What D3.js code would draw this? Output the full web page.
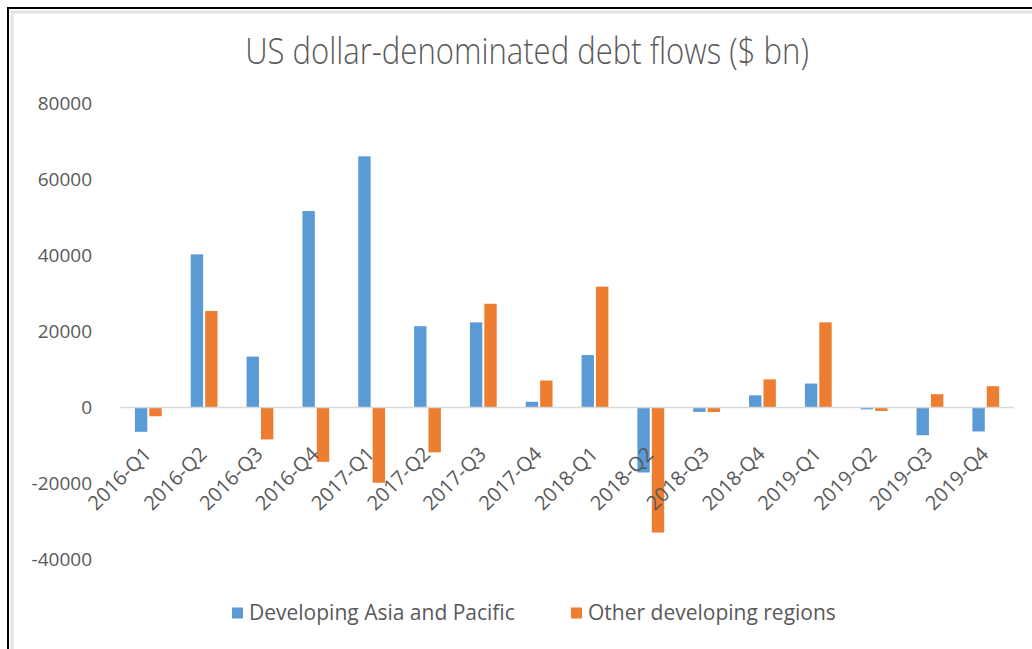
<!DOCTYPE html>
<html>
<head>
<meta charset="utf-8">
<script src="https://cdn.jsdelivr.net/npm/d3@7"></script>
<style>
  body { margin: 0; background: #fff; }
  svg text { font-family: "Open Sans", "Noto Sans", sans-serif; fill: #595959; }
</style>
</head>
<body>
<div id="chart"></div>
<script>
// quarters on the x axis
const quarters = ["2016-Q1", "2016-Q2", "2016-Q3", "2016-Q4",
                  "2017-Q1", "2017-Q2", "2017-Q3", "2017-Q4",
                  "2018-Q1", "2018-Q2", "2018-Q3", "2018-Q4",
                  "2019-Q1", "2019-Q2", "2019-Q3", "2019-Q4"];

// $ bn
const asiaPacific  = [-6400, 40300, 13400, 51700, 66100, 21400, 22400, 1500,
                      13800, -17100, -1150, 3200, 6300, -500, -7300, -6300];
const otherRegions = [-2300, 25400, -8400, -14300, -19800, -11800, 27300, 7100,
                      31800, -32900, -1200, 7400, 22400, -900, 3500, 5600];

const seriesNames = ["Developing Asia and Pacific", "Other developing regions"];
const seriesColors = ["#5B9BD5", "#ED7D31"];
const yTicks = [-40000, -20000, 0, 20000, 40000, 60000, 80000];

const width = 1032, height = 649;

const svg = d3.select("#chart").append("svg")
    .attr("width", width)
    .attr("height", height);

// frame like the screenshot (black top/left edge, grey inner border)
svg.append("path")
    .attr("d", "M12,649 V12 H1032")
    .attr("fill", "none")
    .attr("stroke", "#e3e3e3")
    .attr("stroke-width", 3);
svg.append("path")
    .attr("d", "M8,649 V8 H1032")
    .attr("fill", "none")
    .attr("stroke", "#000")
    .attr("stroke-width", 2);

// title - condensed look by squeezing a larger font horizontally
svg.append("text")
    .attr("transform", "translate(527,64) scale(0.84,1)")
    .attr("text-anchor", "middle")
    .style("font-size", "37px")
    .style("font-weight", 300)
    .text("US dollar-denominated debt flows ($ bn)");

// scales
const x = d3.scaleBand()
    .domain(quarters)
    .range([120.4, 1013.7])
    .paddingInner(0.52)
    .paddingOuter(0.26);

const xInner = d3.scaleBand()
    .domain([0, 1])
    .range([0, x.bandwidth()])
    .paddingInner(0.14);

const y = d3.scaleLinear()
    .domain([-40000, 80000])
    .range([559.5, 103.5]);

// y axis labels only (no axis line, no gridlines)
const yAxis = d3.axisLeft(y).tickValues(yTicks).tickSize(0).tickPadding(0).tickFormat(d => String(d));
const gy = svg.append("g")
    .attr("transform", "translate(92,0)")
    .call(yAxis);
gy.select(".domain").remove();
gy.selectAll("text")
    .style("font-size", "19px")
    .style("fill", "#595959");

// bars
const rows = quarters.map((q, i) => ({q: q, vals: [asiaPacific[i], otherRegions[i]]}));

const groups = svg.append("g").selectAll("g")
    .data(rows)
    .join("g")
    .attr("transform", d => `translate(${x(d.q)},0)`);

groups.selectAll("rect")
    .data(d => d.vals.map((v, k) => ({k: k, v: v})))
    .join("rect")
    .attr("x", d => xInner(d.k))
    .attr("width", xInner.bandwidth())
    .attr("y", d => y(Math.max(0, d.v)))
    .attr("height", d => Math.abs(y(d.v) - y(0)))
    .attr("fill", d => seriesColors[d.k]);

// zero line
svg.append("line")
    .attr("x1", x.range()[0])
    .attr("x2", x.range()[1])
    .attr("y1", y(0))
    .attr("y2", y(0))
    .attr("stroke", "#d9d9d9")
    .attr("stroke-width", 1.5);

// rotated category labels under the zero line
svg.append("g").selectAll("text")
    .data(quarters)
    .join("text")
    .attr("transform", d => `translate(${x(d) + x.bandwidth() / 2 + 4},${y(0) + 48}) rotate(-45)`)
    .attr("text-anchor", "end")
    .style("font-size", "20px")
    .text(d => d);

// legend
const legend = svg.append("g").attr("transform", "translate(0,613)");
const legendX = [232, 571];
seriesNames.forEach((name, k) => {
    legend.append("rect")
        .attr("x", legendX[k])
        .attr("y", -5.5)
        .attr("width", 11)
        .attr("height", 11)
        .attr("fill", seriesColors[k]);
    legend.append("text")
        .attr("x", legendX[k] + 17)
        .attr("y", 0)
        .attr("dy", "0.35em")
        .style("font-size", "21px")
        .text(name);
});
</script>
</body>
</html>
